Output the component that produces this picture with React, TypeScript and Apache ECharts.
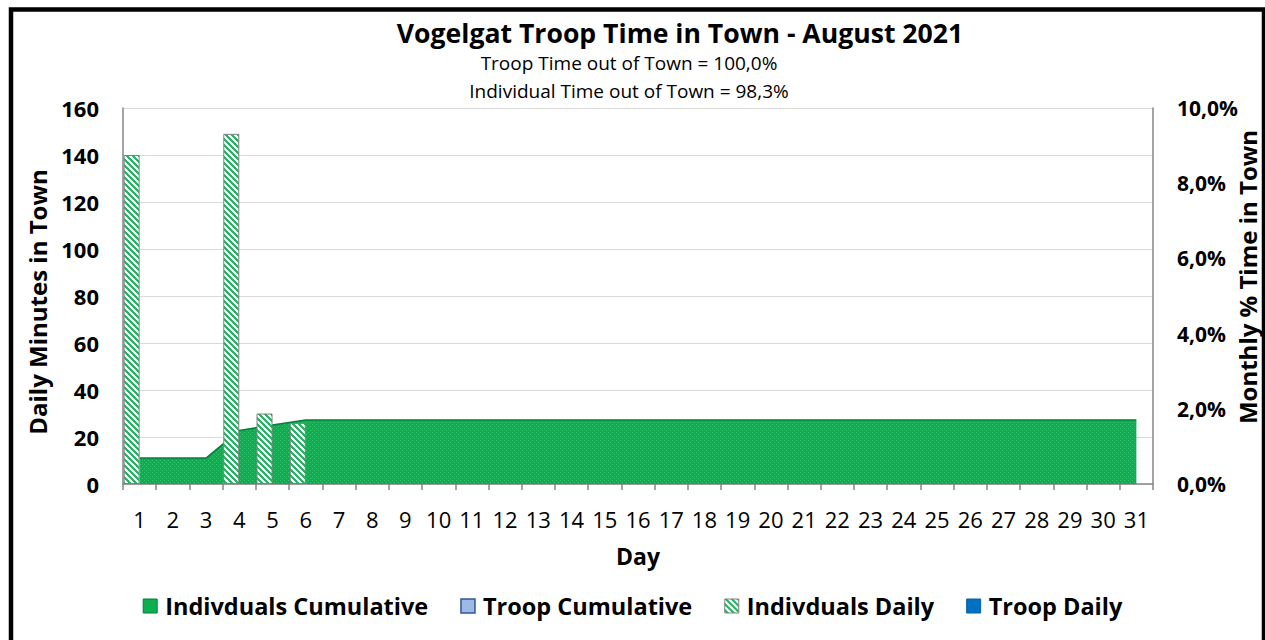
import React, { useEffect, useRef } from "react";
import * as echarts from "echarts";

const days = ["1","2","3","4","5","6","7","8","9","10","11","12","13","14","15","16","17","18","19","20","21","22","23","24","25","26","27","28","29","30","31"];
const indivDaily = [140,0,0,149,30,26,0,0,0,0,0,0,0,0,0,0,0,0,0,0,0,0,0,0,0,0,0,0,0,0,0];
const troopDaily = [0,0,0,0,0,0,0,0,0,0,0,0,0,0,0,0,0,0,0,0,0,0,0,0,0,0,0,0,0,0,0];
const indivCumPct = [0.0069,0.0069,0.0069,0.0142,0.0157,0.017,0.017,0.017,0.017,0.017,0.017,0.017,0.017,0.017,0.017,0.017,0.017,0.017,0.017,0.017,0.017,0.017,0.017,0.017,0.017,0.017,0.017,0.017,0.017,0.017,0.017];
const troopCumPct = [0,0,0,0,0,0,0,0,0,0,0,0,0,0,0,0,0,0,0,0,0,0,0,0,0,0,0,0,0,0,0];
const leftTicks = { min: 0, max: 160, interval: 20 };
const rightTicks = { min: 0, max: 0.1, interval: 0.02 };

const FONT = "'Open Sans'";

function makeHatch(): HTMLCanvasElement {
  const c = document.createElement("canvas");
  const n = 6;
  c.width = n; c.height = n;
  const ctx = c.getContext("2d")!;
  const img = ctx.createImageData(n, n);
  for (let y = 0; y < n; y++) {
    for (let x = 0; x < n; x++) {
      const k = (((x - y) % n) + n) % n;
      const g = k < 3;
      const i = (y * n + x) * 4;
      img.data[i] = g ? 40 : 255;
      img.data[i + 1] = g ? 180 : 255;
      img.data[i + 2] = g ? 100 : 255;
      img.data[i + 3] = 255;
    }
  }
  ctx.putImageData(img, 0, 0);
  return c;
}

function makeDots(): HTMLCanvasElement {
  const c = document.createElement("canvas");
  c.width = 4; c.height = 4;
  const ctx = c.getContext("2d")!;
  ctx.fillStyle = "#0BAF4F";
  ctx.fillRect(0, 0, 4, 4);
  ctx.fillStyle = "#3DC274";
  ctx.fillRect(0, 0, 1, 1);
  ctx.fillRect(2, 2, 1, 1);
  return c;
}

export default function App() {
  const ref = useRef<HTMLDivElement>(null);
  useEffect(() => {
    const chart = echarts.init(ref.current!, undefined, { renderer: "svg" });
    const hatch = makeHatch();
    const dots = makeDots();
    const nz = (a: number[]) => a.map((v) => (v === 0 ? null : v));
    chart.setOption({
      animation: false,
      backgroundColor: "#fff",
      textStyle: { fontFamily: FONT },
      graphic: [
        { type: "rect", shape: { x: 11, y: 9.5, width: 1253, height: 700 }, style: { fill: "none", stroke: "#000", lineWidth: 4.5 }, silent: true },
        { type: "text", x: 680, y: 33, style: { text: "Vogelgat Troop Time in Town - August 2021", font: `bold 26.6px ${FONT}`, fill: "#000", textAlign: "center", textVerticalAlign: "middle" } },
        { type: "text", x: 629, y: 63, style: { text: "Troop Time out of Town = 100,0%", font: `19px ${FONT}`, fill: "#000", textAlign: "center", textVerticalAlign: "middle" } },
        { type: "text", x: 629, y: 91, style: { text: "Individual Time out of Town = 98,3%", font: `19px ${FONT}`, fill: "#000", textAlign: "center", textVerticalAlign: "middle" } },
      ],
      grid: { left: 123, right: 112, top: 108, bottom: 156, outerBoundsMode: "none", containLabel: false },
      legend: {
        bottom: 17,
        left: "center",
        itemWidth: 14,
        itemHeight: 14,
        itemGap: 32,
        textStyle: { fontSize: 23.5, fontWeight: "bold", color: "#000", fontFamily: FONT, padding: [0, 0, 0, 3] },
        data: [
          { name: "Indivduals Cumulative", icon: "rect", itemStyle: { color: "#0BAF4F", borderColor: "#00803A", borderWidth: 1 } },
          { name: "Troop Cumulative", icon: "rect", itemStyle: { color: "#9DB9E6", borderColor: "#2F5597", borderWidth: 1.5 } },
          { name: "Indivduals Daily", icon: "rect", itemStyle: { color: { image: hatch, repeat: "repeat" }, borderColor: "#808080", borderWidth: 1 } },
          { name: "Troop Daily", icon: "rect", itemStyle: { color: "#0070C0", borderColor: "#0060A8", borderWidth: 1 } },
        ],
      },
      xAxis: {
        type: "category",
        data: days,
        boundaryGap: true,
        axisLine: { lineStyle: { color: "#868686", width: 1.5 } },
        axisTick: { show: true, interval: 0, length: 6, lineStyle: { color: "#868686", width: 1.5 } },
        axisLabel: { fontSize: 22, color: "#000", margin: 24, fontFamily: FONT, interval: 0, hideOverlap: false },
        name: "Day",
        nameLocation: "middle",
        nameGap: 60,
        nameMoveOverlap: false,
        nameTextStyle: { fontSize: 23, fontWeight: "bold", color: "#000", fontFamily: FONT },
      },
      yAxis: [
        {
          type: "value",
          min: leftTicks.min,
          max: leftTicks.max,
          interval: leftTicks.interval,
          axisLine: { show: true, lineStyle: { color: "#868686", width: 1.5 } },
          axisTick: { show: false },
          splitLine: { lineStyle: { color: "#D9D9D9", width: 1 } },
          axisLabel: { fontSize: 22, fontWeight: "bold", color: "#000", margin: 24, fontFamily: FONT },
          name: "Daily Minutes in Town",
          nameLocation: "middle",
          nameRotate: 90,
          nameGap: 74,
          nameMoveOverlap: false,
          nameTextStyle: { fontSize: 24, fontWeight: "bold", color: "#000", fontFamily: FONT, padding: [0, 12, 0, 0] },
        },
        {
          type: "value",
          min: rightTicks.min,
          max: rightTicks.max,
          interval: rightTicks.interval,
          position: "right",
          axisLine: { show: true, lineStyle: { color: "#868686", width: 1.5 } },
          axisTick: { show: false },
          splitLine: { show: false },
          axisLabel: {
            fontSize: 21, fontWeight: "bold", color: "#000", margin: 24, fontFamily: FONT,
            formatter: (v: number) => (v * 100).toFixed(1).replace(".", ",") + "%",
          },
          name: "Monthly % Time in Town",
          nameLocation: "middle",
          nameRotate: 90,
          nameGap: 82,
          nameMoveOverlap: false,
          nameTextStyle: { fontSize: 24, fontWeight: "bold", color: "#000", fontFamily: FONT, padding: [0, 0, 0, 38] },
        },
      ],
      series: [
        {
          name: "Indivduals Cumulative",
          type: "line",
          yAxisIndex: 1,
          data: indivCumPct,
          symbol: "none",
          lineStyle: { color: "#00803A", width: 1.5 },
          itemStyle: { color: "#00B050" },
          areaStyle: { color: { image: dots, repeat: "repeat" }, opacity: 1 },
          z: 1,
        },
        {
          name: "Troop Cumulative",
          type: "line",
          yAxisIndex: 1,
          data: troopCumPct,
          symbol: "none",
          lineStyle: { width: 0, color: "#2F5597" },
          itemStyle: { color: "#9DB9E6" },
          areaStyle: { color: "#9DB9E6", opacity: 1 },
          z: 1,
        },
        {
          name: "Indivduals Daily",
          type: "bar",
          yAxisIndex: 0,
          data: nz(indivDaily),
          barWidth: 16,
          barGap: "0%",
          itemStyle: { color: { image: hatch, repeat: "repeat" }, borderColor: "#808080", borderWidth: 1 },
          z: 3,
        },
        {
          name: "Troop Daily",
          type: "bar",
          yAxisIndex: 0,
          data: nz(troopDaily),
          barWidth: 16,
          barGap: "0%",
          itemStyle: { color: "#0070C0" },
          z: 3,
        },
      ],
    });
    return () => chart.dispose();
  }, []);
  return <div ref={ref} style={{ position: "fixed", left: 0, top: 0, width: 1265, height: 640 }} />;
}
